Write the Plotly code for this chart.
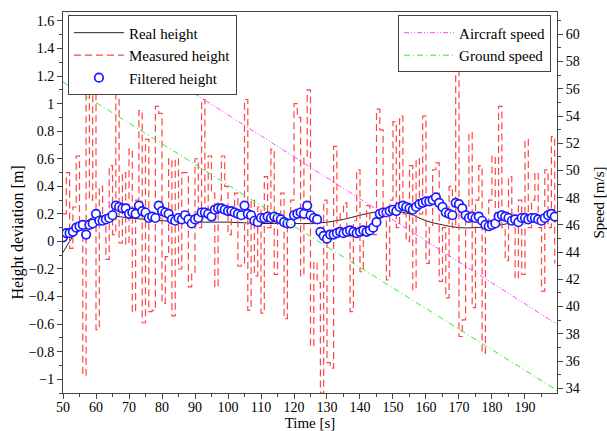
import plotly.graph_objects as go

# ---------------- data ----------------
time_s = list(range(50, 200))

measured_height = [
    0.2, 0.5, -0.05, 0.25, 0.62, 0.1, -0.97, 1.08, 0.3, 1.15,
    -0.64, 0.4, 0.15, -0.13, 0.55, 0.05, 1.42, -0.01, 0.5, -0.02,
    0.67, -0.51, 0.3, 0.95, -0.59, 0.74, -0.51, -0.5, 0.98, 0.93,
    -0.45, -0.11, 0.6, -0.54, 0.6, -0.2, 0.5, 0.5, -0.33, -0.23,
    0.6, 0.1, 1.03, 0.2, 0.62, 0.35, -0.33, 0.3, 0.62, 0.4,
    0.05, 0.2, 0.35, -0.18, -0.17, 1.03, -0.5, 0.3, -0.25, 0.25,
    -0.52, 0.47, 0.1, 0.67, -0.24, 0.2, 0.35, -0.56, 0.1, 0.3,
    1.0, 0.9, -0.25, 0.62, 1.1, -0.76, -0.15, -0.3, -1.1, 0.3,
    -0.88, -0.92, 0.69, 0.1, 0.2, 0.28, 0.05, -0.51, 0.15, 0.52,
    -0.22, 0.1, 0.26, 0.15, 0.05, 0.96, 0.81, 0.2, -0.28, 0.3,
    0.87, 0.1, 0.91, 0.2, 0.0, 0.55, -0.35, 0.6, 0.2, 0.91,
    -0.16, 0.1, 0.52, 0.57, -0.29, 0.1, -0.41, 0.4, 0.1, 1.35,
    -0.69, -0.57, 0.2, 0.79, -0.48, 0.3, 0.55, -0.81, 0.1, 0.3,
    0.62, 0.2, 0.98, 0.1, -0.14, 0.47, 0.2, -0.27, 0.3, -0.24,
    0.74, 0.1, 0.3, 0.5, 0.1, -0.36, 0.52, 0.1, 0.76, -0.16,
]

filtered_height = [
    0.03, 0.06, 0.06, 0.07, 0.1, 0.11, 0.12, 0.05, 0.12, 0.13,
    0.2, 0.15, 0.15, 0.16, 0.17, 0.19, 0.26, 0.25, 0.24, 0.24,
    0.2, 0.21, 0.2, 0.26, 0.22, 0.21, 0.17, 0.18, 0.17, 0.26,
    0.22, 0.21, 0.2, 0.16, 0.15, 0.17, 0.16, 0.19, 0.16, 0.13,
    0.16, 0.17, 0.21, 0.21, 0.2, 0.18, 0.23, 0.24, 0.24, 0.23,
    0.22, 0.22, 0.21, 0.2, 0.19, 0.26, 0.2, 0.19, 0.15, 0.14,
    0.17, 0.17, 0.18, 0.17, 0.18, 0.17, 0.16, 0.14, 0.13, 0.13,
    0.19, 0.2, 0.21, 0.2, 0.26, 0.19, 0.17, 0.16, 0.07, 0.04,
    0.02, 0.05, 0.05, 0.06, 0.07, 0.06, 0.07, 0.08, 0.07, 0.06,
    0.07, 0.08, 0.07, 0.08, 0.1, 0.14, 0.2, 0.21, 0.21, 0.22,
    0.23, 0.22, 0.25, 0.26, 0.25, 0.24, 0.23, 0.25, 0.27, 0.28,
    0.29, 0.29, 0.3, 0.32, 0.28, 0.25, 0.21, 0.2, 0.19, 0.28,
    0.27, 0.24, 0.19, 0.17, 0.18, 0.17, 0.18, 0.15, 0.12, 0.11,
    0.12, 0.13, 0.18, 0.19, 0.18, 0.17, 0.15, 0.16, 0.14, 0.17,
    0.17, 0.16, 0.17, 0.17, 0.16, 0.15, 0.17, 0.19, 0.2, 0.18,
]

real_t = [50, 52, 55, 58, 60, 65, 70, 75, 80, 85, 90, 95, 100, 105, 110,
          115, 120, 125, 130, 135, 140, 145, 150, 155, 160, 165, 170, 175,
          180, 185, 190, 195, 199.7]
real_height = [-0.08, 0.0, 0.1, 0.16, 0.18, 0.185, 0.17, 0.16, 0.15, 0.145,
               0.14, 0.14, 0.14, 0.135, 0.13, 0.13, 0.13, 0.13, 0.14, 0.16,
               0.19, 0.215, 0.22, 0.2, 0.15, 0.12, 0.1, 0.1, 0.11, 0.13,
               0.15, 0.16, 0.17]

speed_t = [50, 199.7]
aircraft_speed = [61.8, 38.7]
ground_speed = [56.5, 33.85]

# ---------------- figure ----------------
FONT = "Liberation Serif, Times New Roman, Times, serif"
AXC = "#444444"

fig = go.Figure()

fig.add_trace(go.Scatter(
    x=real_t, y=real_height, mode="lines", name="Real height",
    line=dict(color="#222222", width=1, shape="spline"), legend="legend"))
fig.add_trace(go.Scatter(
    x=time_s, y=measured_height, mode="lines", name="Measured height",
    line=dict(color="rgb(255,70,70)", width=1.2, shape="hv", dash="7px,4px"),
    legend="legend"))
fig.add_trace(go.Scatter(
    x=time_s, y=filtered_height, mode="markers", name="Filtered height",
    marker=dict(symbol="circle", size=8.5, color="white",
                line=dict(color="#1a1aff", width=1.7)),
    legend="legend"))

fig.add_trace(go.Scatter(
    x=speed_t, y=aircraft_speed, mode="lines", name="Aircraft speed",
    line=dict(color="#ff44ff", width=1, dash="5px,2px,1px,2px,1px,2px"),
    yaxis="y2", legend="legend2"))
fig.add_trace(go.Scatter(
    x=speed_t, y=ground_speed, mode="lines", name="Ground speed",
    line=dict(color="#33ee33", width=1, dash="6px,3px,1px,3px"),
    yaxis="y2", legend="legend2"))

common_axis = dict(
    showgrid=False, zeroline=False, showline=True, linecolor=AXC, linewidth=1,
    ticks="outside", ticklen=5, tickcolor=AXC, automargin=False,
    tickfont=dict(family=FONT, size=14, color="black"),
)

fig.update_layout(
    width=607, height=431,
    margin=dict(l=63, r=50, t=12, b=38),
    paper_bgcolor="white", plot_bgcolor="white",
    font=dict(family=FONT, size=14, color="black"),
    xaxis=dict(
        **common_axis, range=[50, 199.7], dtick=10, tick0=50, mirror=True,
        ticklabelstandoff=-4,
        minor=dict(ticks="outside", ticklen=3, dtick=5, tickcolor=AXC),
        title=dict(text="Time [s]", font=dict(family=FONT, size=15)),
    ),
    yaxis=dict(
        **common_axis, range=[-1.10, 1.665], dtick=0.2, tick0=0,
        minor=dict(ticks="outside", ticklen=3, dtick=0.1, tickcolor=AXC),
    ),
    yaxis2=dict(
        **common_axis, range=[33.65, 61.64], dtick=2, tick0=0,
        overlaying="y", side="right",
        minor=dict(ticks="outside", ticklen=3, dtick=1, tickcolor=AXC),
        title=dict(text="Speed [m/s]", font=dict(family=FONT, size=15)),
    ),
    legend=dict(
        x=0.01, y=0.991, xanchor="left", yanchor="top",
        bgcolor="white", bordercolor=AXC, borderwidth=1,
        font=dict(family=FONT, size=15), itemwidth=50, tracegroupgap=0,
    ),
    legend2=dict(
        x=0.988, y=0.991, xanchor="right", yanchor="top",
        bgcolor="white", bordercolor=AXC, borderwidth=1,
        font=dict(family=FONT, size=15), itemwidth=50, tracegroupgap=0,
    ),
    annotations=[dict(
        text="Height deviation [m]", textangle=-90, showarrow=False,
        xref="paper", yref="paper", x=-0.092, y=0.42,
        xanchor="center", yanchor="middle",
        font=dict(family=FONT, size=16, color="black"),
    )],
)

fig.write_html("out.html", config={"displayModeBar": False},
               post_script="document.body.style.margin='0';document.body.style.padding='0';")
